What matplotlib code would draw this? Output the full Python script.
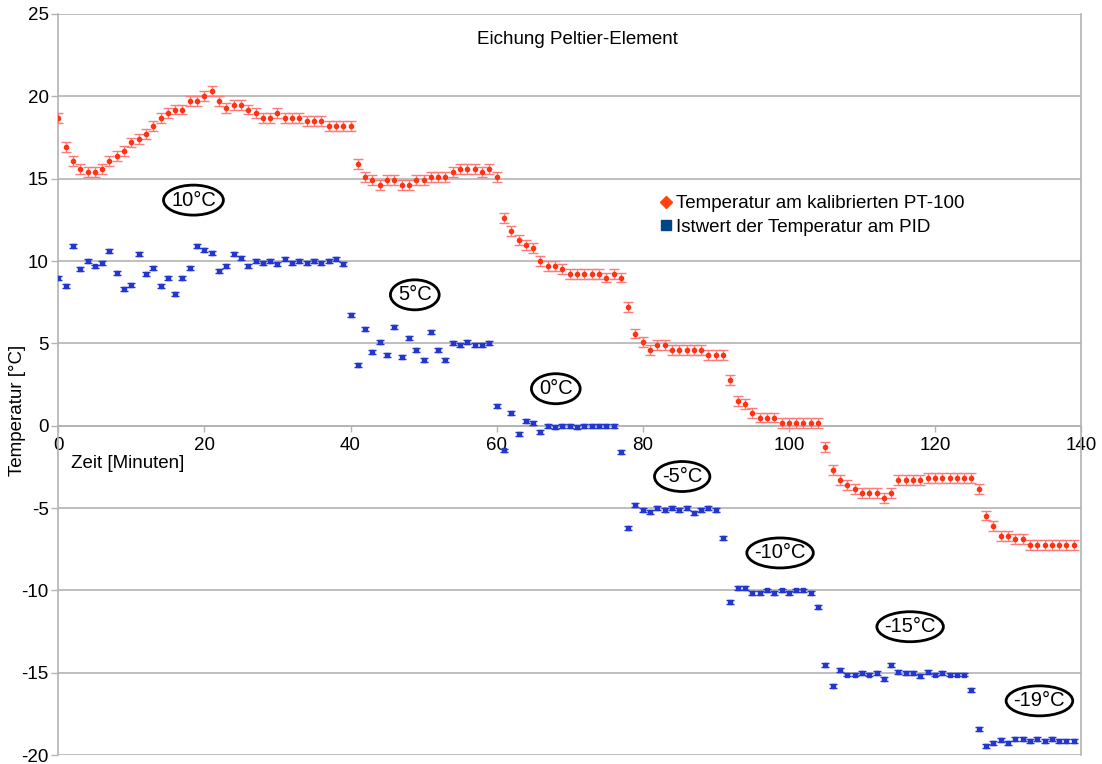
import numpy as np
import matplotlib
matplotlib.use("Agg")
import matplotlib.pyplot as plt
from matplotlib.patches import Ellipse
from matplotlib.lines import Line2D

plt.rcParams["font.family"] = ["Liberation Sans", "DejaVu Sans"]
plt.rcParams["axes.unicode_minus"] = False

# Temperatur am kalibrierten PT-100, one reading per minute
t_pt100 = [
    18.7, 16.9, 16.1, 15.6, 15.4, 15.4, 15.6, 16.1, 16.4, 16.7,
    17.2, 17.4, 17.7, 18.2, 18.7, 19.0, 19.2, 19.2, 19.7, 19.7,
    20.0, 20.3, 19.7, 19.3, 19.5, 19.5, 19.2, 19.0, 18.7, 18.7,
    19.0, 18.7, 18.7, 18.7, 18.5, 18.5, 18.5, 18.2, 18.2, 18.2,
    18.2, 15.9, 15.1, 14.9, 14.6, 14.9, 14.9, 14.6, 14.6, 14.9,
    14.9, 15.1, 15.1, 15.1, 15.4, 15.6, 15.6, 15.6, 15.4, 15.6,
    15.1, 12.6, 11.8, 11.3, 11.0, 10.8, 10.0, 9.7, 9.7, 9.5,
    9.2, 9.2, 9.2, 9.2, 9.2, 9.0, 9.2, 9.0, 7.2, 5.6,
    5.1, 4.6, 4.9, 4.9, 4.6, 4.6, 4.6, 4.6, 4.6, 4.3,
    4.3, 4.3, 2.8, 1.5, 1.3, 0.8, 0.5, 0.5, 0.5, 0.15,
    0.15, 0.15, 0.15, 0.15, 0.15, -1.3, -2.7, -3.3, -3.6, -3.85,
    -4.1, -4.1, -4.1, -4.4, -4.1, -3.3, -3.3, -3.3, -3.3, -3.15,
    -3.15, -3.15, -3.15, -3.15, -3.15, -3.15, -3.85, -5.45, -6.1, -6.7,
    -6.7, -6.9, -6.9, -7.25, -7.25, -7.25, -7.25, -7.25, -7.25, -7.25,
]

# Istwert der Temperatur am PID
t_pid = [
    8.98, 8.5, 10.9, 9.5, 10.0, 9.67, 9.9, 10.6, 9.3, 8.3,
    8.55, 10.4, 9.2, 9.6, 8.5, 9.0, 8.0, 9.0, 9.6, 10.9,
    10.7, 10.5, 9.4, 9.7, 10.4, 10.2, 9.7, 10.0, 9.9, 10.0,
    9.8, 10.1, 9.9, 10.0, 9.9, 10.0, 9.9, 10.0, 10.1, 9.8,
    6.7, 3.7, 5.9, 4.5, 5.1, 4.3, 6.0, 4.2, 5.3, 4.6,
    4.0, 5.7, 4.6, 4.0, 5.0, 4.9, 5.1, 4.9, 4.9, 5.0,
    1.2, -1.5, 0.78, -0.5, 0.3, 0.17, -0.4, 0.0, -0.1, 0.0,
    0.0, -0.1, 0.0, 0.0, 0.0, 0.0, 0.0, -1.6, -6.2, -4.8,
    -5.1, -5.25, -5.0, -5.1, -5.0, -5.1, -5.0, -5.3, -5.1, -5.0,
    -5.1, -6.8, -10.7, -9.85, -9.85, -10.15, -10.15, -10.0, -10.15, -10.0,
    -10.15, -10.0, -10.0, -10.15, -11.0, -14.5, -15.8, -14.8, -15.1, -15.1,
    -15.0, -15.1, -15.0, -15.35, -14.5, -14.95, -15.0, -15.0, -15.2, -14.95,
    -15.1, -15.0, -15.1, -15.1, -15.1, -16.05, -18.4, -19.45, -19.25, -19.05,
    -19.25, -19.0, -19.0, -19.15, -19.0, -19.15, -19.0, -19.15, -19.15, -19.15,
]

minutes = np.arange(len(t_pt100))
err_pt100 = 0.3
err_pid = 0.12

# setpoint labels and where they sit (minute, °C)
setpoints = ["10°C", "5°C", "0°C", "-5°C", "-10°C", "-15°C", "-19°C"]
setpoint_pos = [(18.5, 13.7), (48.8, 7.95), (68.1, 2.25), (85.4, -3.08),
                (98.8, -7.72), (116.6, -12.2), (134.3, -16.7)]

x_ticks = [0, 20, 40, 60, 80, 100, 120, 140]
y_ticks = [-20, -15, -10, -5, 0, 5, 10, 15, 20, 25]

grid_col = "#b3b3b3"
fs = 13.5

fig = plt.figure(figsize=(11.02, 7.64), dpi=100)
ax = fig.add_axes([0.0529, 0.0115, 0.9281, 0.9702])
ax.set_xlim(0, 140)
ax.set_ylim(-20, 25)

ax.errorbar(minutes, t_pt100, yerr=err_pt100, fmt="o", color="#ff3311",
            markersize=3, ecolor="#ff7a7a", elinewidth=1.0, capsize=3.5,
            capthick=1.0, zorder=3)
ax.errorbar(minutes, t_pid, yerr=err_pid, fmt="s", color="#2436d0",
            markersize=3, ecolor="#2436d0", elinewidth=1.0, capsize=2.8,
            capthick=1.0, zorder=3)

ax.set_yticks(y_ticks)
ax.set_xticks(x_ticks)
ax.yaxis.grid(True, color=grid_col, linewidth=1.2)
ax.set_axisbelow(True)

for side in ["left", "right", "bottom"]:
    ax.spines[side].set_color(grid_col)
    ax.spines[side].set_linewidth(1.2)
ax.spines["top"].set_visible(False)
ax.spines["bottom"].set_position(("data", 0))
ax.tick_params(axis="x", direction="out", length=4.5, width=1.0,
               color=grid_col, labelsize=fs, pad=3.5)
ax.tick_params(axis="y", direction="out", length=5, width=1.0,
               color=grid_col, labelsize=fs, pad=2)

ax.text(1.75, -2.27, "Zeit [Minuten]", fontsize=fs, ha="left", va="center")
fig.text(18 / 1102, 1 - 410 / 764, "Temperatur [°C]", fontsize=fs,
         rotation=90, ha="center", va="center")
fig.text(577 / 1102, 1 - 40 / 764, "Eichung Peltier-Element", fontsize=fs,
         ha="center", va="center")

handles = [
    Line2D([], [], linestyle="none", marker="D", markersize=6.5,
           color="#ff420e"),
    Line2D([], [], linestyle="none", marker="s", markersize=7.5,
           color="#004586"),
]
ax.legend(handles, ["Temperatur am kalibrierten PT-100",
                    "Istwert der Temperatur am PID"],
          loc="upper left", bbox_to_anchor=(660 / 1102, 1 - 195 / 764),
          bbox_transform=fig.transFigure, frameon=False, fontsize=fs,
          handlelength=0.6, handletextpad=0.25, labelspacing=0.35,
          borderpad=0, borderaxespad=0)

# setpoint labels, each ringed by an ellipse sized from its text
texts = []
for lab, (xp, yp) in zip(setpoints, setpoint_pos):
    texts.append(ax.text(xp, yp, lab, fontsize=14.5, ha="center",
                         va="center", zorder=5))
fig.canvas.draw()
renderer = fig.canvas.get_renderer()
ax_box = ax.get_window_extent(renderer)
px_x = ax_box.width / 140
px_y = ax_box.height / 45
for t, (xp, yp) in zip(texts, setpoint_pos):
    w = t.get_window_extent(renderer).width + 15
    ax.add_patch(Ellipse((xp, yp), w / px_x, 30 / px_y, fill=False,
                         edgecolor="black", linewidth=2.0, zorder=4))

fig.savefig("out.png", dpi=100)
